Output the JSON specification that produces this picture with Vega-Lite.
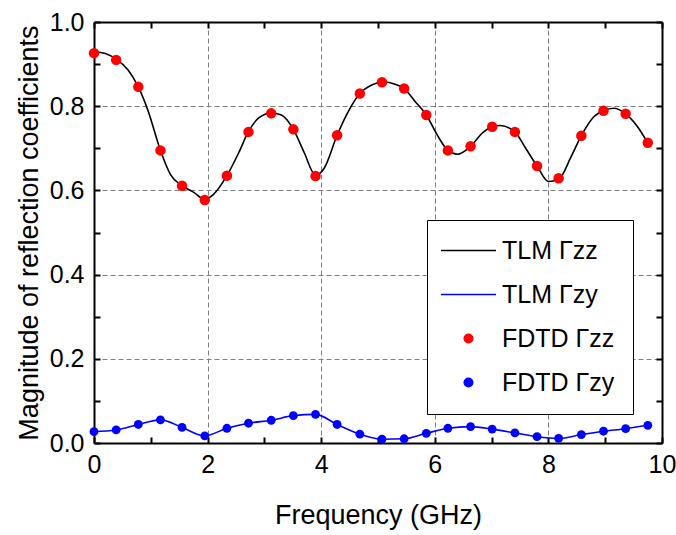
{
  "$schema": "https://vega.github.io/schema/vega-lite/v6.json",
  "width": 568,
  "height": 421,
  "autosize": {"type": "none"},
  "padding": {"left": 94, "top": 22, "right": 14, "bottom": 92},
  "background": "white",
  "config": {
    "view": {"stroke": null},
    "font": "Liberation Sans",
    "axis": {
      "domainColor": "black",
      "domainWidth": 2,
      "tickColor": "black",
      "tickWidth": 2,
      "tickSize": -6,
      "ticks": true,
      "labelColor": "black",
      "titleColor": "black",
      "labelFont": "Liberation Sans",
      "titleFont": "Liberation Sans",
      "labelFontSize": 25,
      "titleFontSize": 27,
      "titleFontWeight": "normal",
      "labelFlush": false,
      "labelOverlap": false,
      "grid": false,
      "gridColor": "#808080",
      "gridDash": [5, 3],
      "gridWidth": 1
    }
  },
  "data": {
    "values": [
      {"f": 0, "mag": 0.930, "series": "TLM Γzz"},
      {"f": 0.2, "mag": 0.925, "series": "TLM Γzz"},
      {"f": 0.39, "mag": 0.912, "series": "TLM Γzz"},
      {"f": 0.6, "mag": 0.886, "series": "TLM Γzz"},
      {"f": 0.78, "mag": 0.846, "series": "TLM Γzz"},
      {"f": 0.95, "mag": 0.790, "series": "TLM Γzz"},
      {"f": 1.17, "mag": 0.695, "series": "TLM Γzz"},
      {"f": 1.35, "mag": 0.637, "series": "TLM Γzz"},
      {"f": 1.55, "mag": 0.611, "series": "TLM Γzz"},
      {"f": 1.75, "mag": 0.596, "series": "TLM Γzz"},
      {"f": 1.95, "mag": 0.579, "series": "TLM Γzz"},
      {"f": 2.1, "mag": 0.590, "series": "TLM Γzz"},
      {"f": 2.34, "mag": 0.635, "series": "TLM Γzz"},
      {"f": 2.55, "mag": 0.690, "series": "TLM Γzz"},
      {"f": 2.72, "mag": 0.740, "series": "TLM Γzz"},
      {"f": 2.9, "mag": 0.772, "series": "TLM Γzz"},
      {"f": 3.12, "mag": 0.784, "series": "TLM Γzz"},
      {"f": 3.3, "mag": 0.779, "series": "TLM Γzz"},
      {"f": 3.51, "mag": 0.745, "series": "TLM Γzz"},
      {"f": 3.7, "mag": 0.690, "series": "TLM Γzz"},
      {"f": 3.9, "mag": 0.636, "series": "TLM Γzz"},
      {"f": 4.05, "mag": 0.652, "series": "TLM Γzz"},
      {"f": 4.28, "mag": 0.731, "series": "TLM Γzz"},
      {"f": 4.5, "mag": 0.793, "series": "TLM Γzz"},
      {"f": 4.68, "mag": 0.830, "series": "TLM Γzz"},
      {"f": 4.9, "mag": 0.851, "series": "TLM Γzz"},
      {"f": 5.1, "mag": 0.858, "series": "TLM Γzz"},
      {"f": 5.3, "mag": 0.852, "series": "TLM Γzz"},
      {"f": 5.46, "mag": 0.842, "series": "TLM Γzz"},
      {"f": 5.65, "mag": 0.812, "series": "TLM Γzz"},
      {"f": 5.85, "mag": 0.779, "series": "TLM Γzz"},
      {"f": 6.05, "mag": 0.730, "series": "TLM Γzz"},
      {"f": 6.23, "mag": 0.695, "series": "TLM Γzz"},
      {"f": 6.4, "mag": 0.686, "series": "TLM Γzz"},
      {"f": 6.63, "mag": 0.705, "series": "TLM Γzz"},
      {"f": 6.85, "mag": 0.738, "series": "TLM Γzz"},
      {"f": 7.01, "mag": 0.751, "series": "TLM Γzz"},
      {"f": 7.15, "mag": 0.754, "series": "TLM Γzz"},
      {"f": 7.41, "mag": 0.739, "series": "TLM Γzz"},
      {"f": 7.6, "mag": 0.700, "series": "TLM Γzz"},
      {"f": 7.8, "mag": 0.658, "series": "TLM Γzz"},
      {"f": 8.0, "mag": 0.621, "series": "TLM Γzz"},
      {"f": 8.18, "mag": 0.626, "series": "TLM Γzz"},
      {"f": 8.4, "mag": 0.680, "series": "TLM Γzz"},
      {"f": 8.58, "mag": 0.730, "series": "TLM Γzz"},
      {"f": 8.8, "mag": 0.775, "series": "TLM Γzz"},
      {"f": 8.97, "mag": 0.789, "series": "TLM Γzz"},
      {"f": 9.15, "mag": 0.795, "series": "TLM Γzz"},
      {"f": 9.36, "mag": 0.782, "series": "TLM Γzz"},
      {"f": 9.55, "mag": 0.755, "series": "TLM Γzz"},
      {"f": 9.75, "mag": 0.713, "series": "TLM Γzz"},

      {"f": 0, "mag": 0.027, "series": "TLM Γzy"},
      {"f": 0.39, "mag": 0.031, "series": "TLM Γzy"},
      {"f": 0.78, "mag": 0.044, "series": "TLM Γzy"},
      {"f": 1.17, "mag": 0.055, "series": "TLM Γzy"},
      {"f": 1.55, "mag": 0.037, "series": "TLM Γzy"},
      {"f": 1.95, "mag": 0.017, "series": "TLM Γzy"},
      {"f": 2.34, "mag": 0.035, "series": "TLM Γzy"},
      {"f": 2.72, "mag": 0.047, "series": "TLM Γzy"},
      {"f": 3.12, "mag": 0.054, "series": "TLM Γzy"},
      {"f": 3.51, "mag": 0.065, "series": "TLM Γzy"},
      {"f": 3.9, "mag": 0.068, "series": "TLM Γzy"},
      {"f": 4.28, "mag": 0.044, "series": "TLM Γzy"},
      {"f": 4.68, "mag": 0.021, "series": "TLM Γzy"},
      {"f": 5.07, "mag": 0.009, "series": "TLM Γzy"},
      {"f": 5.46, "mag": 0.010, "series": "TLM Γzy"},
      {"f": 5.85, "mag": 0.023, "series": "TLM Γzy"},
      {"f": 6.23, "mag": 0.035, "series": "TLM Γzy"},
      {"f": 6.63, "mag": 0.039, "series": "TLM Γzy"},
      {"f": 7.01, "mag": 0.033, "series": "TLM Γzy"},
      {"f": 7.41, "mag": 0.024, "series": "TLM Γzy"},
      {"f": 7.8, "mag": 0.015, "series": "TLM Γzy"},
      {"f": 8.18, "mag": 0.011, "series": "TLM Γzy"},
      {"f": 8.58, "mag": 0.020, "series": "TLM Γzy"},
      {"f": 8.97, "mag": 0.028, "series": "TLM Γzy"},
      {"f": 9.36, "mag": 0.034, "series": "TLM Γzy"},
      {"f": 9.75, "mag": 0.042, "series": "TLM Γzy"},

      {"f": 0, "mag": 0.926, "series": "FDTD Γzz"},
      {"f": 0.39, "mag": 0.910, "series": "FDTD Γzz"},
      {"f": 0.78, "mag": 0.846, "series": "FDTD Γzz"},
      {"f": 1.17, "mag": 0.695, "series": "FDTD Γzz"},
      {"f": 1.55, "mag": 0.611, "series": "FDTD Γzz"},
      {"f": 1.95, "mag": 0.577, "series": "FDTD Γzz"},
      {"f": 2.34, "mag": 0.635, "series": "FDTD Γzz"},
      {"f": 2.72, "mag": 0.739, "series": "FDTD Γzz"},
      {"f": 3.12, "mag": 0.783, "series": "FDTD Γzz"},
      {"f": 3.51, "mag": 0.745, "series": "FDTD Γzz"},
      {"f": 3.9, "mag": 0.634, "series": "FDTD Γzz"},
      {"f": 4.28, "mag": 0.731, "series": "FDTD Γzz"},
      {"f": 4.68, "mag": 0.830, "series": "FDTD Γzz"},
      {"f": 5.07, "mag": 0.857, "series": "FDTD Γzz"},
      {"f": 5.46, "mag": 0.842, "series": "FDTD Γzz"},
      {"f": 5.85, "mag": 0.779, "series": "FDTD Γzz"},
      {"f": 6.23, "mag": 0.695, "series": "FDTD Γzz"},
      {"f": 6.63, "mag": 0.705, "series": "FDTD Γzz"},
      {"f": 7.01, "mag": 0.751, "series": "FDTD Γzz"},
      {"f": 7.41, "mag": 0.739, "series": "FDTD Γzz"},
      {"f": 7.8, "mag": 0.658, "series": "FDTD Γzz"},
      {"f": 8.18, "mag": 0.629, "series": "FDTD Γzz"},
      {"f": 8.58, "mag": 0.730, "series": "FDTD Γzz"},
      {"f": 8.97, "mag": 0.789, "series": "FDTD Γzz"},
      {"f": 9.36, "mag": 0.782, "series": "FDTD Γzz"},
      {"f": 9.75, "mag": 0.713, "series": "FDTD Γzz"},

      {"f": 0, "mag": 0.027, "series": "FDTD Γzy"},
      {"f": 0.39, "mag": 0.031, "series": "FDTD Γzy"},
      {"f": 0.78, "mag": 0.044, "series": "FDTD Γzy"},
      {"f": 1.17, "mag": 0.055, "series": "FDTD Γzy"},
      {"f": 1.55, "mag": 0.037, "series": "FDTD Γzy"},
      {"f": 1.95, "mag": 0.017, "series": "FDTD Γzy"},
      {"f": 2.34, "mag": 0.035, "series": "FDTD Γzy"},
      {"f": 2.72, "mag": 0.047, "series": "FDTD Γzy"},
      {"f": 3.12, "mag": 0.054, "series": "FDTD Γzy"},
      {"f": 3.51, "mag": 0.065, "series": "FDTD Γzy"},
      {"f": 3.9, "mag": 0.068, "series": "FDTD Γzy"},
      {"f": 4.28, "mag": 0.044, "series": "FDTD Γzy"},
      {"f": 4.68, "mag": 0.021, "series": "FDTD Γzy"},
      {"f": 5.07, "mag": 0.009, "series": "FDTD Γzy"},
      {"f": 5.46, "mag": 0.010, "series": "FDTD Γzy"},
      {"f": 5.85, "mag": 0.023, "series": "FDTD Γzy"},
      {"f": 6.23, "mag": 0.035, "series": "FDTD Γzy"},
      {"f": 6.63, "mag": 0.039, "series": "FDTD Γzy"},
      {"f": 7.01, "mag": 0.033, "series": "FDTD Γzy"},
      {"f": 7.41, "mag": 0.024, "series": "FDTD Γzy"},
      {"f": 7.8, "mag": 0.015, "series": "FDTD Γzy"},
      {"f": 8.18, "mag": 0.011, "series": "FDTD Γzy"},
      {"f": 8.58, "mag": 0.020, "series": "FDTD Γzy"},
      {"f": 8.97, "mag": 0.028, "series": "FDTD Γzy"},
      {"f": 9.36, "mag": 0.034, "series": "FDTD Γzy"},
      {"f": 9.75, "mag": 0.042, "series": "FDTD Γzy"}
    ]
  },
  "layer": [
    {
      "transform": [{"filter": "datum.series === 'FDTD Γzy'"}],
      "mark": {"type": "point", "filled": true, "size": 78, "opacity": 1},
      "encoding": {
        "x": {"field": "f", "type": "quantitative", "scale": {"domain": [0, 10], "nice": false},
              "axis": {"orient": "bottom", "values": [2, 4, 6, 8], "grid": true, "domain": false, "ticks": false, "labels": false, "title": null}},
        "y": {"field": "mag", "type": "quantitative", "scale": {"domain": [0, 1], "nice": false},
              "axis": {"orient": "left", "values": [0.2, 0.4, 0.6, 0.8], "grid": true, "domain": false, "ticks": false, "labels": false, "title": null}},
        "color": {"field": "series", "type": "nominal"}
      }
    },
    {
      "transform": [{"filter": "indexof(datum.series, 'TLM') === 0"}],
      "mark": {"type": "line", "interpolate": "monotone", "strokeWidth": 1.6},
      "encoding": {
        "x": {"field": "f", "type": "quantitative",
              "axis": {"orient": "bottom", "values": [0, 1, 2, 3, 4, 5, 6, 7, 8, 9, 10],
                       "labelExpr": "datum.value % 2 === 0 ? datum.label : ''",
                       "tickSize": -6, "labelPadding": 15, "title": "Frequency (GHz)", "titlePadding": 25}},
        "y": {"field": "mag", "type": "quantitative",
              "axis": {"orient": "left", "values": [0, 0.1, 0.2, 0.3, 0.4, 0.5, 0.6, 0.7, 0.8, 0.9, 1.0],
                       "labelExpr": "round(datum.value * 10) % 2 === 0 ? format(datum.value, '.1f') : ''",
                       "tickSize": -6, "labelPadding": 16, "title": "Magnitude of reflection coefficients", "titlePadding": 6}},
        "color": {"field": "series", "type": "nominal",
                  "scale": {"domain": ["TLM Γzz", "TLM Γzy", "FDTD Γzz", "FDTD Γzy"], "range": ["#000000", "#0000ff", "#ff0000", "#0000ff"]},
                  "legend": {
                    "title": null, "orient": "none", "legendX": 333, "legendY": 198,
                    "strokeColor": "#000000", "fillColor": "white", "padding": 18,
                    "labelFontSize": 25, "labelFont": "Liberation Sans", "labelColor": "black",
                    "symbolSize": 100, "symbolOffset": 11, "labelOffset": 21, "rowPadding": 18,
                    "encode": {"symbols": {"update": {
                      "shape": {"signal": "indexof(datum.value, 'TLM') === 0 ? 'M-5.5,-0.14H5.5V0.14H-5.5Z' : 'circle'"},
                      "fill": {"scale": "color", "field": "value"},
                      "stroke": {"value": "transparent"},
                      "strokeWidth": {"value": 0},
                      "opacity": {"value": 1}
                    }}}
                  }}
      }
    },
    {
      "transform": [{"filter": "datum.series === 'FDTD Γzz'"}],
      "mark": {"type": "point", "filled": true, "size": 110, "opacity": 1},
      "encoding": {
        "x": {"field": "f", "type": "quantitative",
              "axis": {"orient": "top", "values": [0, 1, 2, 3, 4, 5, 6, 7, 8, 9, 10], "tickSize": -6, "labels": false, "title": null}},
        "y": {"field": "mag", "type": "quantitative",
              "axis": {"orient": "right", "values": [0, 0.1, 0.2, 0.3, 0.4, 0.5, 0.6, 0.7, 0.8, 0.9, 1.0], "tickSize": -6, "labels": false, "title": null}},
        "color": {"field": "series", "type": "nominal"}
      }
    }
  ],
  "resolve": {"axis": {"x": "independent", "y": "independent"}}
}
